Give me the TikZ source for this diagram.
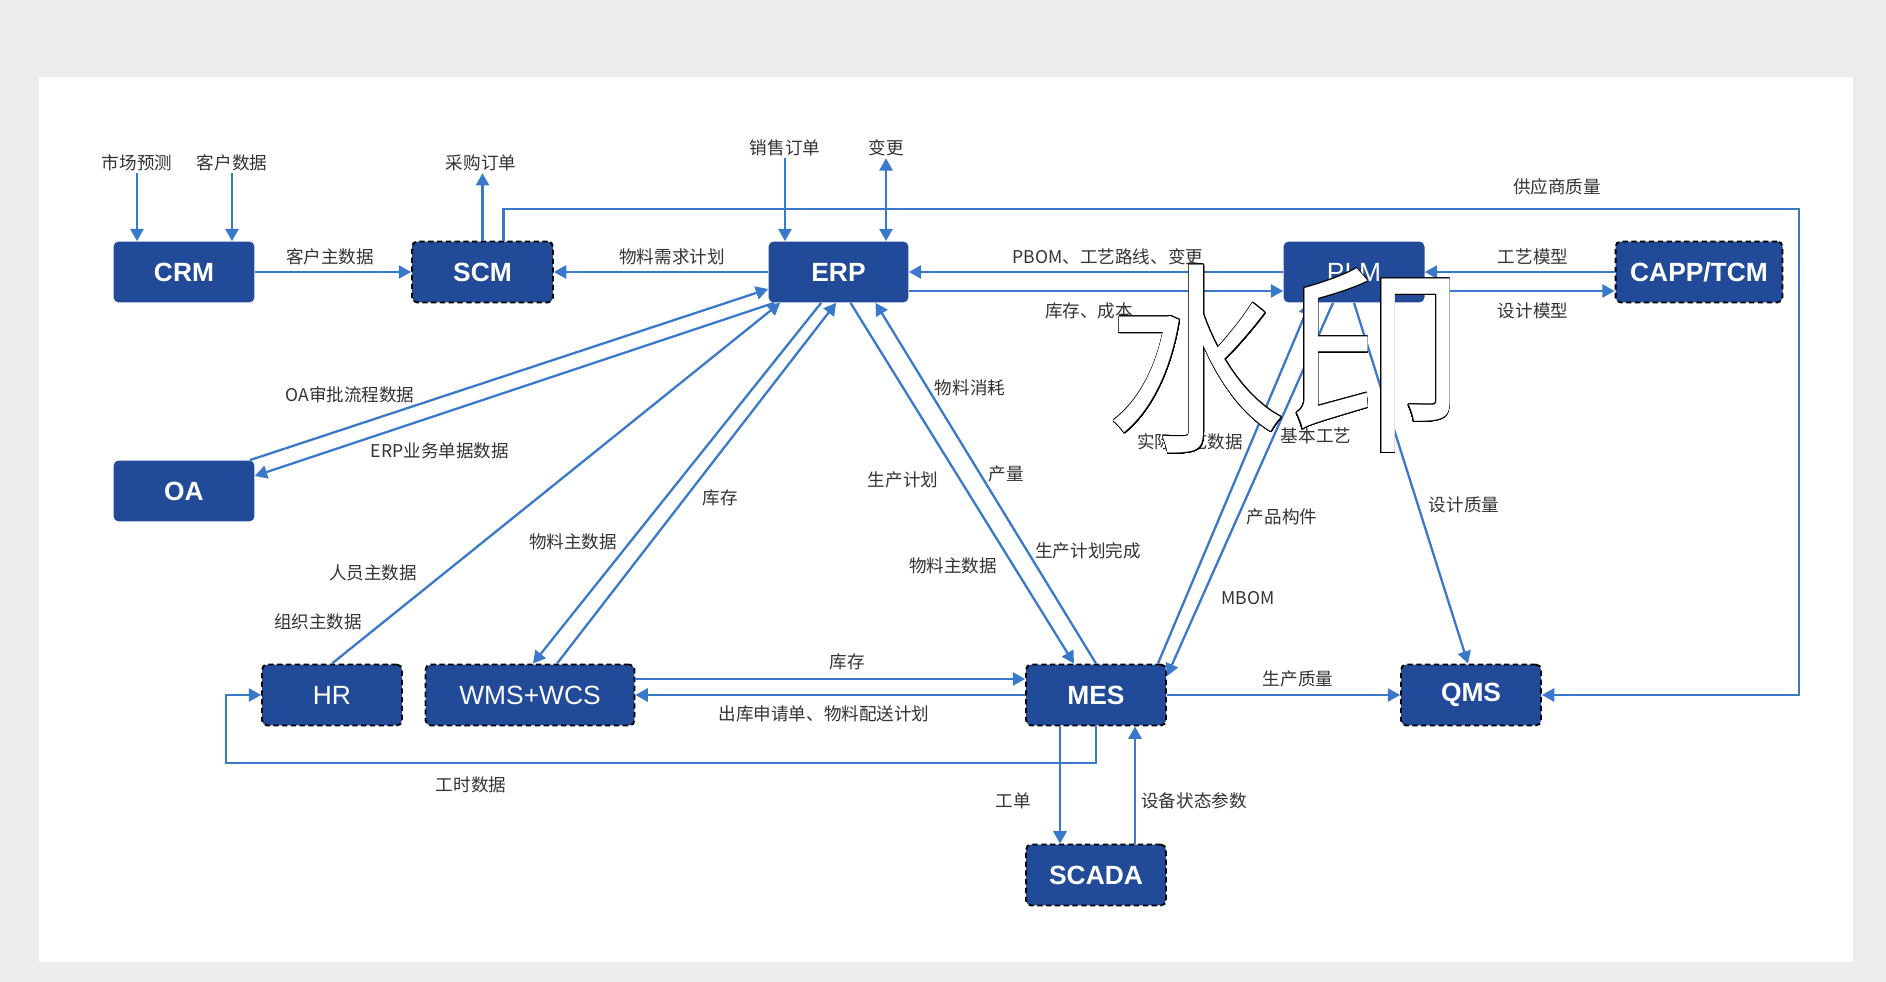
\documentclass[tikz,border=0pt]{standalone}
\usepackage{fontspec}
\setmainfont{Noto Sans CJK SC}
\newfontfamily\boxfont{Liberation Sans}
\usepackage{contour}
\contourlength{0.5pt}
\contournumber{32}
\usetikzlibrary{arrows.meta}
\definecolor{boxblue}{HTML}{214A99}
\definecolor{lineblue}{HTML}{3A78C9}
\definecolor{txtgray}{HTML}{333333}
\definecolor{pagegray}{HTML}{EDEDED}
\tikzset{
  sysbox/.style={fill=boxblue, rounded corners=3pt, text=white, font=\boxfont\bfseries\fontsize{15}{17}\selectfont,
    minimum width=2.82cm, minimum height=1.22cm, inner sep=0pt},
  dashbox/.style={sysbox, draw=black, line width=1.1pt, dash pattern=on 3pt off 2pt},
  plainfont/.style={font=\boxfont\fontsize{15}{17}\selectfont},
  lbl/.style={text=txtgray, font=\fontsize{10}{12}\selectfont, inner sep=1pt},
  arr/.style={draw=lineblue, line width=1.3pt, -{Triangle[length=7pt,width=7.5pt]}},
}
\begin{document}
\begin{tikzpicture}[x=0.02cm, y=-0.02cm]
\useasboundingbox (0,0) rectangle (1886,982);
\fill[pagegray] (0,0) rectangle (1886,982);
\fill[white] (39,77) rectangle (1853,962);

% systems
\node[sysbox] (crm) at (184,272) {CRM};
\node[dashbox] (scm) at (482.5,272) {SCM};
\node[sysbox, minimum width=2.8cm] (erp) at (838.5,272) {ERP};
\node[sysbox, plainfont] (plm) at (1354,272) {PLM};
\node[dashbox, minimum width=3.34cm] (capp) at (1699,272) {CAPP/TCM};
\node[sysbox] (oa) at (184,491) {OA};
\node[dashbox, plainfont, minimum width=2.8cm] (hr) at (332,695) {HR};
\node[dashbox, plainfont, minimum width=4.18cm] (wms) at (530,695) {WMS+WCS};
\node[dashbox, minimum width=2.8cm] (mes) at (1096,695) {MES};
\node[dashbox, minimum width=2.8cm] (qms) at (1471,695) {QMS};
\node[dashbox, minimum width=2.8cm] (scada) at (1096,875) {SCADA};

% outside inputs
\node[lbl] (mkt) at (137,163) {市场预测};
\node[lbl] (cust) at (232,163) {客户数据};
\node[lbl] (po) at (481,163) {采购订单};
\node[lbl] (so) at (785,148) {销售订单};
\node[lbl] (chg) at (886,148) {变更};
\draw[arr] (mkt.south) -- (mkt.south |- crm.north);
\draw[arr] (cust.south) -- (cust.south |- crm.north);
\draw[arr] (scm.north) -- (scm.north |- po.south);
\draw[arr] (so.south) -- (so.south |- erp.north);
\draw[arr, {Triangle[length=7pt,width=7.5pt]}-{Triangle[length=7pt,width=7.5pt]}] (chg.south) -- (chg.south |- erp.north);

% top row
\draw[arr] (crm.east) -- (scm.west);
\node[lbl] at (330,257) {客户主数据};
\draw[arr] (erp.west) -- (scm.east);
\node[lbl] at (672,257) {物料需求计划};
\draw[arr] (plm.west) -- (erp.east);
\node[lbl] at (1108,257) {PBOM、工艺路线、变更};
\draw[arr] ([shift={(0,19)}]erp.east) -- ([shift={(0,19)}]plm.west);
\node[lbl] at (1089,311) {库存、成本};
\draw[arr] (capp.west) -- (plm.east);
\node[lbl] at (1533,257) {工艺模型};
\draw[arr] ([shift={(0,19)}]plm.east) -- ([shift={(0,19)}]capp.west);
\node[lbl] at (1533,311) {设计模型};
\coordinate (sqc) at (1799,209);
\draw[arr] ([shift={(21,0)}]scm.north) |- (sqc) |- (qms.east);
\node[lbl] at (1557,187) {供应商质量};

% ERP links
\draw[arr] ([shift={(-5,0)}]oa.north east) -- ([shift={(0,17)}]erp.west);
\node[lbl] at (350,395) {OA审批流程数据};
\draw[arr] ([shift={(6,0)}]erp.south west) -- ([shift={(0,-15)}]oa.east);
\node[lbl] at (440,451) {ERP业务单据数据};
\draw[arr] (hr.north) -- ([shift={(12,0)}]erp.south west);
\node[lbl] at (373,573) {人员主数据};
\node[lbl] at (318,622) {组织主数据};
\draw[arr] ([shift={(53,0)}]erp.south west) -- ([shift={(3,0)}]wms.north);
\node[lbl] at (573,542) {物料主数据};
\draw[arr] ([shift={(27,0)}]wms.north) -- ([shift={(68,0)}]erp.south west);
\node[lbl] at (720,498) {库存};
\draw[arr] ([shift={(12,0)}]erp.south) -- ([shift={(-22,0)}]mes.north);
\node[lbl] at (903,480) {生产计划};
\node[lbl] at (953,566) {物料主数据};
\draw[arr] (mes.north) -- ([shift={(37,0)}]erp.south);
\node[lbl] at (970,388) {物料消耗};
\node[lbl] at (1006,474) {产量};
\node[lbl] at (1088,551) {生产计划完成};

% PLM links
\draw[arr] ([shift={(-9,0)}]mes.north east) -- ([shift={(-44,0)}]plm.south);
\node[lbl] at (1190,442) {实际工艺数据};
\draw[arr] ([shift={(-21,0)}]plm.south) -- ([shift={(0,-19)}]mes.east);
\node[lbl] at (1316,436) {基本工艺};
\node[lbl] at (1282,517) {产品构件};
\node[lbl] at (1248,598) {MBOM};
\draw[arr] (plm.south) -- ([shift={(-3,0)}]qms.north);
\node[lbl] at (1464,505) {设计质量};

% MES links
\draw[arr] ([shift={(0,-16)}]wms.east) -- ([shift={(0,-16)}]mes.west);
\node[lbl] at (847,662) {库存};
\draw[arr] (mes.west) -- (wms.east);
\node[lbl] at (824,714) {出库申请单、物料配送计划};
\coordinate (hrc) at (226,763);
\draw[arr] (mes.south) |- (hrc) |- (hr.west);
\node[lbl] at (471,785) {工时数据};
\draw[arr] (mes.east) -- (qms.west);
\node[lbl] at (1298,679) {生产质量};
\draw[arr] ([shift={(-36,0)}]mes.south) -- ([shift={(-36,0)}]scada.north);
\node[lbl] at (1013,801) {工单};
\draw[arr] ([shift={(39,0)}]scada.north) -- ([shift={(39,0)}]mes.south);
\node[lbl] at (1194,801) {设备状态参数};

% watermark
\node[inner sep=0pt] (wm) at (1286,360) {\scalebox{0.98}[1.12]{\fontsize{104}{104}\selectfont\contour{black}{\textcolor{white}{水印}}}};
\end{tikzpicture}
\end{document}
